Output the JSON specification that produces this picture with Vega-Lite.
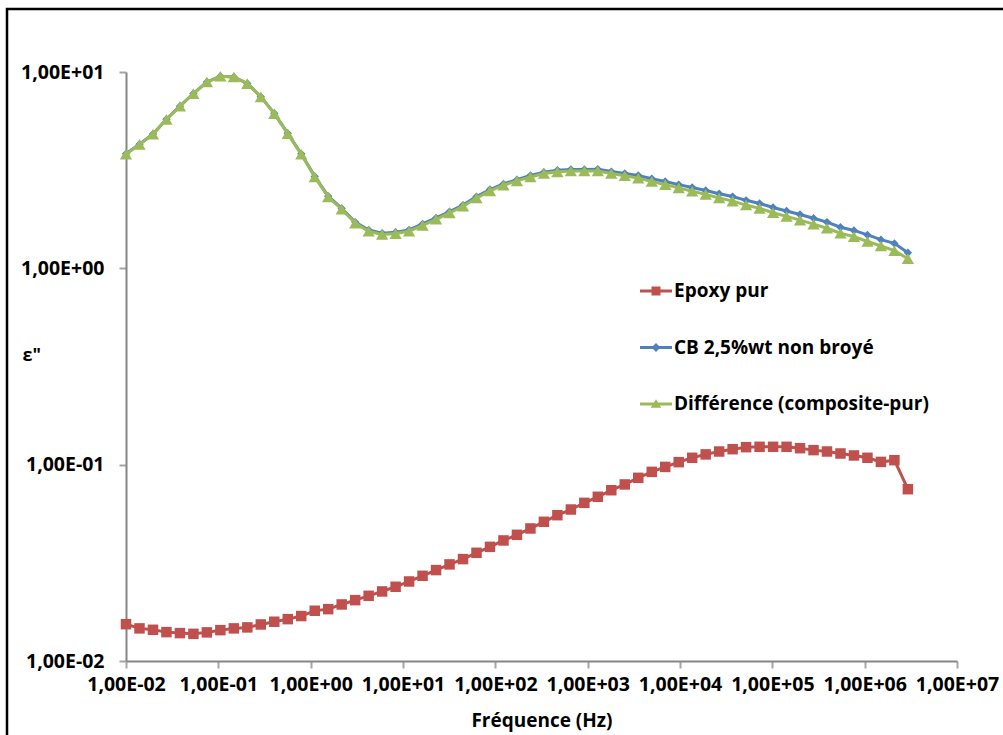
{
  "$schema": "https://vega.github.io/schema/vega-lite/v6.json",
  "width": 1002,
  "height": 732,
  "autosize": "none",
  "padding": {"left": 7, "top": 9, "right": -6, "bottom": -6},
  "background": "white",
  "view": {"stroke": "black", "strokeWidth": 2.5, "fill": "white"},
  "config": {"font": "Open Sans"},
  "data": {"values": [
    {"f":0.01,"s":"Epoxy pur","v":0.0154},{"f":0.014,"s":"Epoxy pur","v":0.01466},{"f":0.01959,"s":"Epoxy pur","v":0.01442},{"f":0.02742,"s":"Epoxy pur","v":0.01403},{"f":0.03837,"s":"Epoxy pur","v":0.01387},{"f":0.0537,"s":"Epoxy pur","v":0.01375},{"f":0.07516,"s":"Epoxy pur","v":0.01399},{"f":0.1052,"s":"Epoxy pur","v":0.01436},{"f":0.1472,"s":"Epoxy pur","v":0.01466},{"f":0.2061,"s":"Epoxy pur","v":0.01483},{"f":0.2884,"s":"Epoxy pur","v":0.01535},{"f":0.4036,"s":"Epoxy pur","v":0.01585},{"f":0.5649,"s":"Epoxy pur","v":0.01634},{"f":0.7907,"s":"Epoxy pur","v":0.01694},{"f":1.107,"s":"Epoxy pur","v":0.01803},{"f":1.549,"s":"Epoxy pur","v":0.01837},{"f":2.168,"s":"Epoxy pur","v":0.01941},{"f":3.034,"s":"Epoxy pur","v":0.02042},{"f":4.246,"s":"Epoxy pur","v":0.02148},{"f":5.943,"s":"Epoxy pur","v":0.02261},{"f":8.318,"s":"Epoxy pur","v":0.02388},{"f":11.64,"s":"Epoxy pur","v":0.02541},{"f":16.29,"s":"Epoxy pur","v":0.02716},{"f":22.8,"s":"Epoxy pur","v":0.02904},{"f":31.92,"s":"Epoxy pur","v":0.03105},{"f":44.67,"s":"Epoxy pur","v":0.03304},{"f":62.52,"s":"Epoxy pur","v":0.03557},{"f":87.5,"s":"Epoxy pur","v":0.03814},{"f":122.5,"s":"Epoxy pur","v":0.04111},{"f":171.4,"s":"Epoxy pur","v":0.04393},{"f":239.9,"s":"Epoxy pur","v":0.04732},{"f":335.7,"s":"Epoxy pur","v":0.05117},{"f":469.9,"s":"Epoxy pur","v":0.0553},{"f":657.7,"s":"Epoxy pur","v":0.0591},{"f":920.4,"s":"Epoxy pur","v":0.0639},{"f":1288,"s":"Epoxy pur","v":0.0686},{"f":1803,"s":"Epoxy pur","v":0.0741},{"f":2523,"s":"Epoxy pur","v":0.0793},{"f":3532,"s":"Epoxy pur","v":0.0857},{"f":4943,"s":"Epoxy pur","v":0.0919},{"f":6918,"s":"Epoxy pur","v":0.0974},{"f":9683,"s":"Epoxy pur","v":0.103},{"f":13550,"s":"Epoxy pur","v":0.1084},{"f":18970,"s":"Epoxy pur","v":0.1128},{"f":26550,"s":"Epoxy pur","v":0.1167},{"f":37150,"s":"Epoxy pur","v":0.1199},{"f":52000,"s":"Epoxy pur","v":0.1228},{"f":72780,"s":"Epoxy pur","v":0.1233},{"f":101900,"s":"Epoxy pur","v":0.1233},{"f":142600,"s":"Epoxy pur","v":0.1233},{"f":199500,"s":"Epoxy pur","v":0.1213},{"f":279300,"s":"Epoxy pur","v":0.1186},{"f":390800,"s":"Epoxy pur","v":0.1167},{"f":547000,"s":"Epoxy pur","v":0.114},{"f":765600,"s":"Epoxy pur","v":0.1114},{"f":1072000,"s":"Epoxy pur","v":0.1084},{"f":1500000,"s":"Epoxy pur","v":0.1033},{"f":2099000,"s":"Epoxy pur","v":0.1054},{"f":2938000,"s":"Epoxy pur","v":0.075},
    {"f":0.01,"s":"CB 2,5%wt non broyé","v":3.83},{"f":0.014,"s":"CB 2,5%wt non broyé","v":4.29},{"f":0.01959,"s":"CB 2,5%wt non broyé","v":4.83},{"f":0.02742,"s":"CB 2,5%wt non broyé","v":5.75},{"f":0.03837,"s":"CB 2,5%wt non broyé","v":6.7},{"f":0.0537,"s":"CB 2,5%wt non broyé","v":7.77},{"f":0.07516,"s":"CB 2,5%wt non broyé","v":8.9},{"f":0.1052,"s":"CB 2,5%wt non broyé","v":9.52},{"f":0.1472,"s":"CB 2,5%wt non broyé","v":9.44},{"f":0.2061,"s":"CB 2,5%wt non broyé","v":8.74},{"f":0.2884,"s":"CB 2,5%wt non broyé","v":7.49},{"f":0.4036,"s":"CB 2,5%wt non broyé","v":6.16},{"f":0.5649,"s":"CB 2,5%wt non broyé","v":4.87},{"f":0.7907,"s":"CB 2,5%wt non broyé","v":3.83},{"f":1.107,"s":"CB 2,5%wt non broyé","v":2.94},{"f":1.549,"s":"CB 2,5%wt non broyé","v":2.33},{"f":2.168,"s":"CB 2,5%wt non broyé","v":2.02},{"f":3.034,"s":"CB 2,5%wt non broyé","v":1.72},{"f":4.246,"s":"CB 2,5%wt non broyé","v":1.567},{"f":5.943,"s":"CB 2,5%wt non broyé","v":1.509},{"f":8.318,"s":"CB 2,5%wt non broyé","v":1.527},{"f":11.64,"s":"CB 2,5%wt non broyé","v":1.57},{"f":16.29,"s":"CB 2,5%wt non broyé","v":1.683},{"f":22.8,"s":"CB 2,5%wt non broyé","v":1.807},{"f":31.92,"s":"CB 2,5%wt non broyé","v":1.945},{"f":44.67,"s":"CB 2,5%wt non broyé","v":2.1},{"f":62.52,"s":"CB 2,5%wt non broyé","v":2.32},{"f":87.5,"s":"CB 2,5%wt non broyé","v":2.52},{"f":122.5,"s":"CB 2,5%wt non broyé","v":2.69},{"f":171.4,"s":"CB 2,5%wt non broyé","v":2.83},{"f":239.9,"s":"CB 2,5%wt non broyé","v":2.97},{"f":335.7,"s":"CB 2,5%wt non broyé","v":3.09},{"f":469.9,"s":"CB 2,5%wt non broyé","v":3.16},{"f":657.7,"s":"CB 2,5%wt non broyé","v":3.19},{"f":920.4,"s":"CB 2,5%wt non broyé","v":3.19},{"f":1288,"s":"CB 2,5%wt non broyé","v":3.2},{"f":1803,"s":"CB 2,5%wt non broyé","v":3.11},{"f":2523,"s":"CB 2,5%wt non broyé","v":3.04},{"f":3532,"s":"CB 2,5%wt non broyé","v":2.97},{"f":4943,"s":"CB 2,5%wt non broyé","v":2.86},{"f":6918,"s":"CB 2,5%wt non broyé","v":2.77},{"f":9683,"s":"CB 2,5%wt non broyé","v":2.67},{"f":13550,"s":"CB 2,5%wt non broyé","v":2.58},{"f":18970,"s":"CB 2,5%wt non broyé","v":2.49},{"f":26550,"s":"CB 2,5%wt non broyé","v":2.4},{"f":37150,"s":"CB 2,5%wt non broyé","v":2.32},{"f":52000,"s":"CB 2,5%wt non broyé","v":2.22},{"f":72780,"s":"CB 2,5%wt non broyé","v":2.14},{"f":101900,"s":"CB 2,5%wt non broyé","v":2.04},{"f":142600,"s":"CB 2,5%wt non broyé","v":1.96},{"f":199500,"s":"CB 2,5%wt non broyé","v":1.88},{"f":279300,"s":"CB 2,5%wt non broyé","v":1.8},{"f":390800,"s":"CB 2,5%wt non broyé","v":1.72},{"f":547000,"s":"CB 2,5%wt non broyé","v":1.62},{"f":765600,"s":"CB 2,5%wt non broyé","v":1.56},{"f":1072000,"s":"CB 2,5%wt non broyé","v":1.48},{"f":1500000,"s":"CB 2,5%wt non broyé","v":1.4},{"f":2099000,"s":"CB 2,5%wt non broyé","v":1.34},{"f":2938000,"s":"CB 2,5%wt non broyé","v":1.2},
    {"f":0.01,"s":"Différence (composite-pur)","v":3.81},{"f":0.014,"s":"Différence (composite-pur)","v":4.28},{"f":0.01959,"s":"Différence (composite-pur)","v":4.82},{"f":0.02742,"s":"Différence (composite-pur)","v":5.74},{"f":0.03837,"s":"Différence (composite-pur)","v":6.69},{"f":0.0537,"s":"Différence (composite-pur)","v":7.76},{"f":0.07516,"s":"Différence (composite-pur)","v":8.89},{"f":0.1052,"s":"Différence (composite-pur)","v":9.51},{"f":0.1472,"s":"Différence (composite-pur)","v":9.43},{"f":0.2061,"s":"Différence (composite-pur)","v":8.73},{"f":0.2884,"s":"Différence (composite-pur)","v":7.47},{"f":0.4036,"s":"Différence (composite-pur)","v":6.14},{"f":0.5649,"s":"Différence (composite-pur)","v":4.85},{"f":0.7907,"s":"Différence (composite-pur)","v":3.81},{"f":1.107,"s":"Différence (composite-pur)","v":2.92},{"f":1.549,"s":"Différence (composite-pur)","v":2.31},{"f":2.168,"s":"Différence (composite-pur)","v":2.0},{"f":3.034,"s":"Différence (composite-pur)","v":1.7},{"f":4.246,"s":"Différence (composite-pur)","v":1.545},{"f":5.943,"s":"Différence (composite-pur)","v":1.486},{"f":8.318,"s":"Différence (composite-pur)","v":1.503},{"f":11.64,"s":"Différence (composite-pur)","v":1.545},{"f":16.29,"s":"Différence (composite-pur)","v":1.656},{"f":22.8,"s":"Différence (composite-pur)","v":1.778},{"f":31.92,"s":"Différence (composite-pur)","v":1.914},{"f":44.67,"s":"Différence (composite-pur)","v":2.07},{"f":62.52,"s":"Différence (composite-pur)","v":2.28},{"f":87.5,"s":"Différence (composite-pur)","v":2.48},{"f":122.5,"s":"Différence (composite-pur)","v":2.65},{"f":171.4,"s":"Différence (composite-pur)","v":2.79},{"f":239.9,"s":"Différence (composite-pur)","v":2.92},{"f":335.7,"s":"Différence (composite-pur)","v":3.04},{"f":469.9,"s":"Différence (composite-pur)","v":3.1},{"f":657.7,"s":"Différence (composite-pur)","v":3.13},{"f":920.4,"s":"Différence (composite-pur)","v":3.13},{"f":1288,"s":"Différence (composite-pur)","v":3.13},{"f":1803,"s":"Différence (composite-pur)","v":3.04},{"f":2523,"s":"Différence (composite-pur)","v":2.96},{"f":3532,"s":"Différence (composite-pur)","v":2.88},{"f":4943,"s":"Différence (composite-pur)","v":2.77},{"f":6918,"s":"Différence (composite-pur)","v":2.67},{"f":9683,"s":"Différence (composite-pur)","v":2.57},{"f":13550,"s":"Différence (composite-pur)","v":2.47},{"f":18970,"s":"Différence (composite-pur)","v":2.38},{"f":26550,"s":"Différence (composite-pur)","v":2.28},{"f":37150,"s":"Différence (composite-pur)","v":2.2},{"f":52000,"s":"Différence (composite-pur)","v":2.1},{"f":72780,"s":"Différence (composite-pur)","v":2.02},{"f":101900,"s":"Différence (composite-pur)","v":1.92},{"f":142600,"s":"Différence (composite-pur)","v":1.84},{"f":199500,"s":"Différence (composite-pur)","v":1.76},{"f":279300,"s":"Différence (composite-pur)","v":1.68},{"f":390800,"s":"Différence (composite-pur)","v":1.6},{"f":547000,"s":"Différence (composite-pur)","v":1.51},{"f":765600,"s":"Différence (composite-pur)","v":1.45},{"f":1072000,"s":"Différence (composite-pur)","v":1.37},{"f":1500000,"s":"Différence (composite-pur)","v":1.3},{"f":2099000,"s":"Différence (composite-pur)","v":1.23},{"f":2938000,"s":"Différence (composite-pur)","v":1.12}
  ]},
  "encoding": {
    "x": {
      "field": "f", "type": "quantitative",
      "scale": {"type": "log", "domain": [0.01, 10000000], "range": [119, 950]},
      "axis": {
        "values": [0.01, 0.1, 1, 10, 100, 1000, 10000, 100000, 1000000, 10000000],
        "labelExpr": "'1,00E' + (round(log(datum.value)/LN10) < 0 ? '-' : '+') + (abs(round(log(datum.value)/LN10)) < 10 ? '0' : '') + abs(round(log(datum.value)/LN10))",
        "grid": false, "labelFlush": false, "labelOverlap": false, "offset": -80,
        "domainColor": "#868686", "domainWidth": 2,
        "tickColor": "#A6A6A6", "tickWidth": 2, "tickSize": 7,
        "labelFont": "Open Sans", "labelFontSize": 19.5, "labelFontWeight": "bold", "labelColor": "black", "labelPadding": 7,
        "title": "Fréquence (Hz)", "titleFont": "Open Sans", "titleFontSize": 19, "titleFontWeight": "bold", "titleColor": "black",
        "titleY": 59, "titleBaseline": "middle"
      }
    },
    "y": {
      "field": "v", "type": "quantitative",
      "scale": {"type": "log", "domain": [0.01, 10], "range": [652, 63]},
      "axis": {
        "values": [0.01, 0.1, 1, 10],
        "labelExpr": "'1,00E' + (round(log(datum.value)/LN10) < 0 ? '-' : '+') + (abs(round(log(datum.value)/LN10)) < 10 ? '0' : '') + abs(round(log(datum.value)/LN10))",
        "grid": false, "labelFlush": false, "labelOverlap": false, "offset": -119,
        "domainColor": "#868686", "domainWidth": 2,
        "tickColor": "#A6A6A6", "tickWidth": 2, "tickSize": 7,
        "labelFont": "Open Sans", "labelFontSize": 19.5, "labelFontWeight": "bold", "labelColor": "black", "labelPadding": 15,
        "title": "ε\"", "titleFont": "Open Sans", "titleFontSize": 18, "titleFontWeight": "bold", "titleColor": "black",
        "titleAngle": 0, "titleAlign": "left", "titleBaseline": "middle", "titleX": -104, "titleY": 346
      }
    }
  },
  "layer": [
    {
      "transform": [{"filter": "datum.s === 'Epoxy pur'"}],
      "mark": {"type": "line", "color": "#C0504D", "strokeWidth": 3}
    },
    {
      "transform": [{"filter": "datum.s === 'Epoxy pur'"}],
      "mark": {"type": "point", "shape": "square", "filled": true, "color": "#C0504D", "opacity": 1, "size": 110}
    },
    {
      "transform": [{"filter": "datum.s === 'CB 2,5%wt non broyé'"}],
      "mark": {"type": "line", "color": "#4F81BD", "strokeWidth": 3}
    },
    {
      "transform": [{"filter": "datum.s === 'CB 2,5%wt non broyé'"}],
      "mark": {"type": "point", "shape": "diamond", "filled": true, "color": "#4F81BD", "opacity": 1, "size": 70}
    },
    {
      "transform": [{"filter": "datum.s === 'Différence (composite-pur)'"}],
      "mark": {"type": "line", "color": "#9BBB59", "strokeWidth": 3}
    },
    {
      "transform": [{"filter": "datum.s === 'Différence (composite-pur)'"}],
      "mark": {"type": "point", "shape": "triangle-up", "filled": true, "color": "#9BBB59", "opacity": 1, "size": 150}
    },
    {
      "mark": {"type": "point", "filled": true, "opacity": 0, "size": 1024},
      "encoding": {
        "color": {
          "field": "s", "type": "nominal",
          "scale": {"domain": ["Epoxy pur", "CB 2,5%wt non broyé", "Différence (composite-pur)"], "range": ["#C0504D", "#4F81BD", "#9BBB59"]},
          "legend": {
            "orient": "none", "legendX": 633, "legendY": 266, "title": null,
            "symbolOpacity": 1, "symbolSize": 1024, "symbolStrokeWidth": 0,
            "rowPadding": 30.5, "labelOffset": 2,
            "labelFont": "Open Sans", "labelFontSize": 19, "labelFontWeight": "bold", "labelColor": "black", "labelLimit": 400,
            "encode": {"symbols": {"update": {"opacity": {"value": 1}, "fillOpacity": {"value": 1}}}}
          }
        },
        "shape": {
          "field": "s", "type": "nominal",
          "scale": {"domain": ["Epoxy pur", "CB 2,5%wt non broyé", "Différence (composite-pur)"],
            "range": [
              "M-1,-0.09H1V0.09H-1Z M-0.28,-0.28H0.28V0.28H-0.28Z",
              "M-1,-0.09H1V0.09H-1Z M0,-0.28L0.28,0L0,0.28L-0.28,0Z",
              "M-1,-0.09H1V0.09H-1Z M0,-0.3L0.33,0.24H-0.33Z"
            ]}
        }
      }
    }
  ]
}
